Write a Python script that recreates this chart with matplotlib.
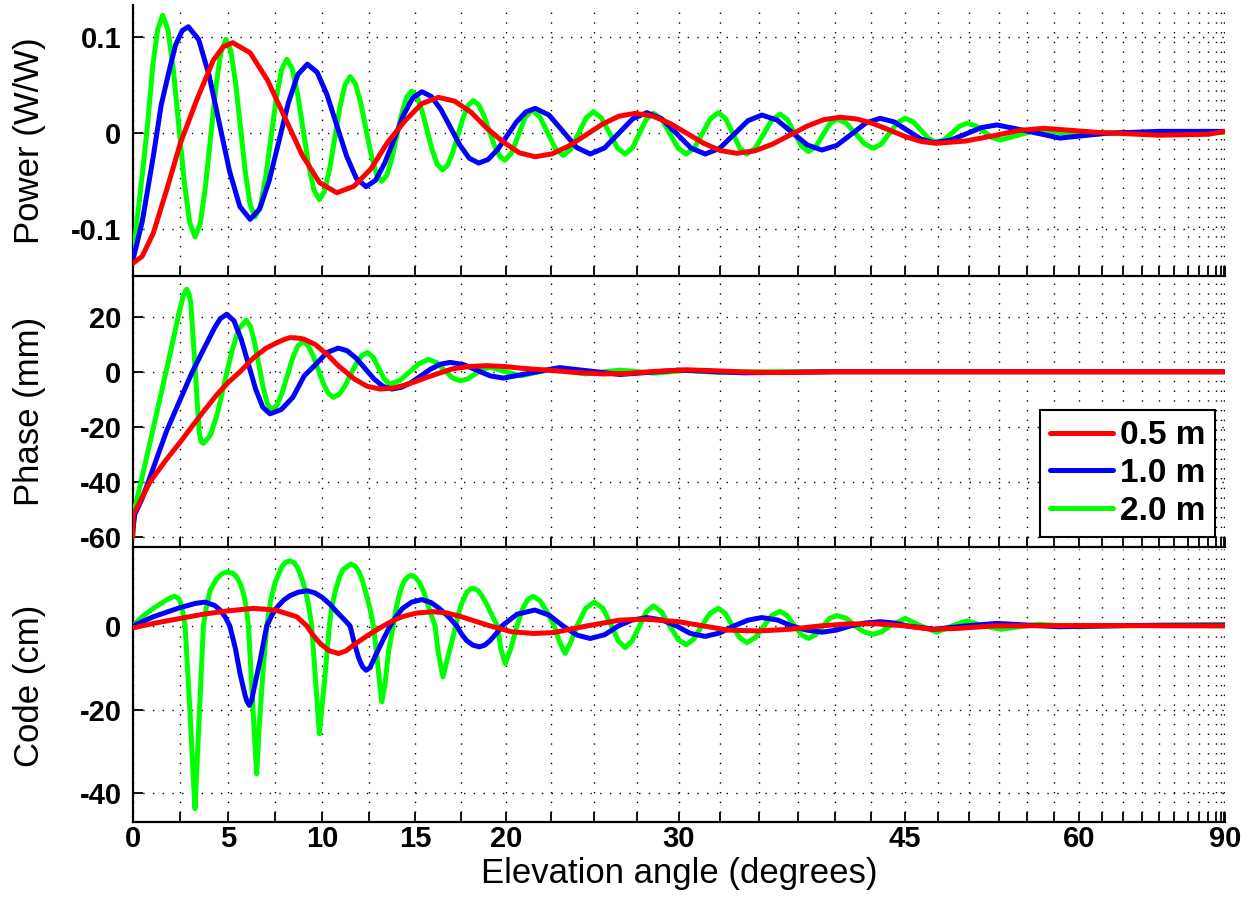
import numpy as np
import matplotlib
matplotlib.use("Agg")
import matplotlib.pyplot as plt

plt.rcParams['font.family'] = ['Liberation Sans', 'DejaVu Sans']
plt.rcParams['axes.unicode_minus'] = False

# ---------------- data (elevation in degrees) ----------------
labels = ["0.5 m", "1.0 m", "2.0 m"]
colors = ["#ff0000", "#0000ff", "#00ff00"]
xtick_labelled = [0, 5, 10, 15, 20, 30, 45, 60, 90]

power_red_x = [0, 0.5, 1.08, 1.78, 2.5, 3.36, 4.23, 4.75, 5.25, 6.17, 7.09, 8.01, 8.93, 9.85, 10.77, 11.683, 12.597,
               13.51, 14.423, 15.337, 16.25, 17.145, 18.04, 18.935, 19.83, 20.725, 21.62, 22.582, 23.543, 24.505,
               25.467, 26.428, 27.39, 28.422, 29.453, 30.485, 31.517, 32.548, 33.58, 34.712, 35.843, 36.975,
               38.107, 39.238, 40.37, 41.542, 42.713, 43.885, 45.057, 46.228, 47.4, 49.7, 52, 54.2, 56.5, 62, 70,
               80, 90]
power_red_y = [-0.1355, -0.128, -0.104, -0.059, -0.0104, 0.0347, 0.076, 0.090, 0.0944, 0.0839, 0.0553, 0.0163,
               -0.0228, -0.0514, -0.0619, -0.0552, -0.037, -0.009, 0.0127, 0.0308, 0.0375, 0.0334, 0.022, 0.005,
               -0.0089, -0.0203, -0.0244, -0.0214, -0.0131, -0.0018, 0.0095, 0.0178, 0.0208, 0.018, 0.0104, 0.0,
               -0.0104, -0.018, -0.0208, -0.0183, -0.0114, -0.002, 0.0073, 0.0142, 0.0167, 0.0149, 0.0099,
               0.0032, -0.0036, -0.0086, -0.0104, -0.008, -0.0026, 0.0029, 0.0052, 0.001, -0.002, -0.001, 0.002]

power_blue_x = [0, 0.5, 1.08, 1.5, 1.96, 2.25, 2.6, 2.92, 3.462, 4.003, 4.545, 5.087, 5.628, 6.17, 6.675, 7.18,
                7.685, 8.19, 8.695, 9.2, 9.723, 10.247, 10.77, 11.293, 11.817, 12.34, 12.842, 13.343, 13.845,
                14.347, 14.848, 15.35, 15.87, 16.39, 16.91, 17.43, 17.95, 18.47, 18.995, 19.52, 20.045, 20.57,
                21.095, 21.62, 22.405, 23.19, 23.975, 24.76, 25.59, 26.42, 27.25, 28.08, 28.96, 29.845, 30.73,
                31.61, 32.5, 33.39, 34.28, 35.17, 36.16, 37.145, 38.13, 39.12, 40.135, 41.15, 42.165, 43.18,
                44.185, 45.19, 46.2, 47.2, 48.5, 49.75, 51.0, 52.3, 55.2, 58.1, 63, 70, 80, 90]
power_blue_y = [-0.133, -0.092, -0.024, 0.03, 0.069, 0.092, 0.107, 0.111, 0.0976, 0.0609, 0.0107, -0.0395,
                -0.0762, -0.0896, -0.0788, -0.0492, -0.0088, 0.0316, 0.0612, 0.072, 0.0635, 0.0401, 0.0082,
                -0.0237, -0.0471, -0.0556, -0.049, -0.0309, -0.0062, 0.0186, 0.0367, 0.0433, 0.0383, 0.0247,
                0.0062, -0.0124, -0.026, -0.031, -0.0272, -0.0168, -0.0025, 0.0118, 0.0222, 0.026, 0.019,
                0.0022, -0.0147, -0.0216, -0.0153, 0.0, 0.0152, 0.0215, 0.0152, 0.0, -0.0153, -0.0216, -0.0157,
                -0.0013, 0.0131, 0.019, 0.0137, 0.0008, -0.0121, -0.0174, -0.0126, -0.0009, 0.0108, 0.0156,
                0.0119, 0.0029, -0.0061, -0.0098, -0.007, -0.0005, 0.006, 0.0087, 0.0018, -0.005, 0.0, 0.002,
                0.002, 0.002]

power_green_x = [0, 0.26, 0.52, 0.785, 1.05, 1.31, 1.57, 1.853, 2.137, 2.42, 2.703, 2.987, 3.27, 3.542, 3.813,
                 4.085, 4.357, 4.628, 4.90, 5.155, 5.41, 5.665, 5.92, 6.175, 6.43, 6.71, 6.99, 7.27, 7.55, 7.83,
                 8.11, 8.398, 8.687, 8.975, 9.263, 9.552, 9.84, 10.113, 10.387, 10.66, 10.933, 11.207, 11.48,
                 11.763, 12.047, 12.33, 12.613, 12.897, 13.18, 13.45, 13.72, 13.99, 14.26, 14.53, 14.80, 15.078,
                 15.357, 15.635, 15.913, 16.192, 16.47, 16.753, 17.037, 17.32, 17.603, 17.887, 18.17, 18.462,
                 18.753, 19.045, 19.337, 19.628, 19.92, 20.30, 20.675, 21.05, 21.43, 21.88, 22.325, 22.77, 23.22,
                 23.65, 24.085, 24.52, 24.95, 25.41, 25.875, 26.34, 26.8, 27.22, 27.635, 28.05, 28.47, 28.96,
                 29.455, 29.95, 30.44, 30.94, 31.435, 31.93, 32.43, 32.875, 33.32, 33.765, 34.21, 34.745, 35.28,
                 35.815, 36.35, 36.82, 37.285, 37.75, 38.22, 38.7, 39.18, 39.66, 40.14, 40.78, 41.42, 42.06, 42.7,
                 43.275, 43.85, 44.425, 45.0, 45.6, 46.2, 46.8, 47.4, 48.0, 48.6, 49.2, 49.8, 50.5, 51.2, 51.9,
                 52.6, 54.3, 56, 58, 60, 65, 70, 80, 90]
power_green_y = [-0.132, -0.085, -0.04, 0.01, 0.07, 0.108, 0.123, 0.1075, 0.0652, 0.0075, -0.0503, -0.0925, -0.108,
                 -0.0942, -0.0565, -0.005, 0.0465, 0.0842, 0.098, 0.0856, 0.0518, 0.0055, -0.0408, -0.0746, -0.087,
                 -0.076, -0.046, -0.005, 0.036, 0.066, 0.077, 0.0672, 0.0405, 0.004, -0.0325, -0.0592, -0.069,
                 -0.0604, -0.037, -0.005, 0.027, 0.0504, 0.059, 0.0517, 0.0318, 0.0045, -0.0228, -0.0427, -0.050,
                 -0.0437, -0.0265, -0.003, 0.0205, 0.0377, 0.044, 0.0385, 0.0235, 0.003, -0.0175, -0.0325, -0.038,
                 -0.0332, -0.020, -0.002, 0.016, 0.0292, 0.034, 0.0298, 0.0185, 0.003, -0.0125, -0.0238, -0.028,
                 -0.0204, -0.002, 0.0164, 0.024, 0.0171, 0.0005, -0.016, -0.023, -0.0164, -0.0003, 0.0159, 0.0225,
                 0.016, 0.0005, -0.0152, -0.0216, -0.0154, -0.0003, 0.0148, 0.021, 0.0148, -0.0003, -0.0154,
                 -0.0216, -0.0153, 0.0, 0.0152, 0.0215, 0.0152, 0.0, -0.0153, -0.0216, -0.0155, -0.0008, 0.014,
                 0.020, 0.0143, 0.0005, -0.0133, -0.019, -0.014, -0.002, 0.010, 0.015, 0.0105, 0.0, -0.011, -0.0156,
                 -0.011, 0.0, 0.011, 0.0156, 0.012, 0.003, -0.0058, -0.0095, -0.0066, 0.0005, 0.0075, 0.0104,
                 0.0079, 0.0017, -0.0045, -0.007, -0.0015, 0.004, 0.001, -0.002, 0.001, 0.0, 0.0005, 0.001]

phase_red_x = [0, 0.03, 0.4, 0.91, 1.7, 2.5, 3.1, 3.71, 4.4, 5.0, 5.64, 6.34, 7.0, 7.6, 8.0, 8.28, 8.6, 9.0, 9.6,
               10.3, 10.85, 11.7, 12.4, 13.1, 13.7, 14.3, 15.0, 15.6, 16.3, 17.0, 17.9, 18.9, 19.9, 20.8, 22.5, 24,
               25.5, 27, 28.5, 30.5, 32.5, 34.5, 36.5, 40, 90]
phase_red_y = [-60, -52, -47, -40, -32.5, -25.5, -20, -14.5, -8.5, -4, 0, 5, 8.5, 10.6, 11.8, 12.4, 12.3, 11.9,
               10, 6, 2.2, -2.6, -5.3, -6.3, -6.0, -5.1, -3.6, -2.1, -0.5, 1.0, 1.9, 2.2, 1.9, 1.3, 0.5, -0.3,
               -0.8, -0.6, 0.1, 0.7, 0.3, -0.2, -0.3, 0, 0]

phase_blue_x = [0, 0.1, 0.5, 0.82, 1.08, 1.78, 2.5, 3.1, 3.71, 4.3, 4.6, 4.94, 5.32, 5.70, 6.08, 6.46, 6.84, 7.22,
                7.825, 8.43, 9.035, 9.64, 10.245, 10.85, 11.328, 11.807, 12.285, 12.763, 13.242, 13.72, 14.248,
                14.777, 15.305, 15.833, 16.362, 16.89, 17.63, 18.365, 19.1, 19.84, 21.4, 23, 24.75, 26.5, 28.25,
                30, 32, 34, 40, 90]
phase_blue_y = [-58, -52, -46, -40, -35, -21.5, -10, -0.5, 8, 16, 19.3, 20.9, 18.5, 11.85, 2.8, -6.25, -12.9,
                -15.3, -13.7, -9.3, -1.5, 2.6, 7.0, 8.6, 7.6, 4.9, 1.15, -2.6, -5.3, -6.3, -5.65, -3.9, -1.45,
                0.98, 2.75, 3.4, 2.6, 0.55, -1.5, -2.3, -0.4, 1.5, 0.25, -1.0, -0.2, 0.6, 0.1, -0.4, 0, 0]

phase_green_x = [0, 0.1, 0.5, 1.08, 1.96, 2.45, 2.65, 2.83, 2.95, 3.05, 3.27, 3.49, 3.6, 3.71, 3.85, 4.085, 4.46,
                 4.835, 5.21, 5.585, 5.96, 6.185, 6.41, 6.635, 6.86, 7.085, 7.31, 7.585, 7.86, 8.135, 8.41, 8.685,
                 8.96, 9.232, 9.503, 9.775, 10.047, 10.318, 10.59, 10.893, 11.197, 11.5, 11.803, 12.107, 12.41,
                 12.715, 13.02, 13.325, 13.63, 14.15, 14.67, 15.19, 15.71, 16.14, 16.575, 17.01, 17.44, 17.86,
                 18.27, 18.68, 19.1, 19.95, 20.8, 21.7, 22.6, 23.55, 24.5, 25.5, 26.5, 27.5, 28.5, 29.5, 30.5,
                 31.5, 32.5, 34, 40, 90]
phase_green_y = [-60, -50, -38, -20.5, 6.5, 22, 27.5, 30, 28.5, 25, 2, -22, -25.5, -26, -25, -23.0, -14.8,
                 -3.65, 7.5, 15.7, 18.7, 16.5, 10.55, 2.4, -5.75, -11.7, -13.9, -12.2, -7.7, -1.45, 4.8, 9.3,
                 11.0, 9.6, 5.9, 0.85, -4.2, -7.9, -9.3, -8.2, -5.2, -1.15, 2.9, 5.9, 7.0, 5.3, 1.25, -2.8, -4.5,
                 -3.2, -0.15, 2.9, 4.5, 3.4, 0.6, -2.2, -3.3, -2.6, -0.85, 0.9, 1.6, 0.05, -1.5, -0.25, 1.0, 0.1,
                 -0.8, -0.1, 0.6, 0.05, -0.5, 0, 0.5, 0.1, -0.3, 0, 0, 0]

code_red_x = [0, 1.08, 2.5, 3.7, 5, 6.34, 7.5, 8.64, 9.17, 9.5, 9.88, 10.35, 10.85, 11.25, 11.66, 12.05, 12.45,
              13.26, 13.8, 14.35, 15.1, 15.97, 16.7, 17.44, 18.3, 19.1, 20.3, 21.5, 22.65, 24.57, 26.5, 28, 30,
              31.5, 33, 35, 37, 39, 41, 43, 45, 47, 49, 52, 60, 90]
code_red_y = [-0.5, 0.6, 1.8, 2.8, 3.6, 4.2, 3.8, 2.2, 0, -2.2, -4.2, -5.9, -6.6, -6.0, -4.6, -3.4, -2.2, 0, 1.3,
              2.3, 3.1, 3.4, 3.1, 2.3, 1.1, 0, -1.4, -1.8, -1.6, 0, 1.4, 1.6, 1.0, 0, -1.0, -1.2, -0.8, 0, 0.5,
              0.5, 0, -0.8, -0.6, 0, 0.1, 0]

code_blue_x = [0, 1.08, 2.5, 3.3, 3.8, 4.3, 4.59, 4.85, 5.1, 5.4, 5.64, 5.9, 6.0, 6.13, 6.25, 6.4, 6.7, 7.05, 7.3,
               7.6, 7.95, 8.3, 8.75, 9.2, 9.6, 10.0, 10.4, 10.8, 11.15, 11.48, 11.7, 11.95, 12.15, 12.34, 12.55,
               12.8, 13.2, 13.63, 13.95, 14.3, 14.8, 15.35, 15.85, 16.3, 16.8, 17.26, 17.5, 17.8, 18.15, 18.5,
               18.8, 19.1, 19.45, 19.76, 20.6, 21.6, 22.4, 23.2, 24.0, 24.76, 25.6, 26.4, 27.2, 28.08, 29, 29.85,
               30.7, 31.61, 32.5, 33.4, 34.3, 35.17, 36.2, 37.1, 38.1, 39.12, 40.1, 41.1, 42.1, 43.18, 44.2,
               45.2, 47.2, 49.7, 52.3, 58, 65, 90]
code_blue_y = [0, 2.2, 4.4, 5.4, 5.7, 4.9, 3.8, 2.2, 0, -5.5, -11.4, -16.5, -18, -19, -17.8, -14.5, -8.2, 0, 2.4,
               4.5, 6.2, 7.3, 8.1, 8.4, 7.9, 6.8, 5.2, 3.2, 1.6, 0, -4, -7.8, -9.8, -10.6, -10.0, -7.5, -3.8, 0,
               2.2, 4.2, 5.7, 6.3, 5.6, 4.2, 2.2, 0, -1.8, -3.5, -4.6, -5, -4.6, -3.5, -1.8, 0, 2.8, 3.8, 2.6, 0,
               -2.2, -3, -2.1, 0, 1.4, 2, 1.4, 0, -1.8, -2.5, -1.7, 0, 1.4, 2.0, 1.4, 0, -1, -1.5, -1, 0, 0.7,
               1.0, 0.7, 0, -0.8, 0, 0.6, -0.2, 0.1, 0.2]

code_green_x = [0, 0.5, 1.08, 1.7, 2.0, 2.22, 2.4, 2.5, 2.62, 2.75, 3.0, 3.15, 3.27, 3.4, 3.55, 3.71, 3.85, 4.06,
                4.41, 4.7, 4.97, 5.25, 5.45, 5.64, 5.82, 5.96, 6.08, 6.25, 6.4, 6.52, 6.65, 6.85, 7.05, 7.25, 7.5,
                7.85, 8.05, 8.25, 8.5, 8.7, 8.95, 9.17, 9.3, 9.43, 9.6, 9.75, 9.84, 9.95, 10.15, 10.37, 10.5, 10.7,
                10.9, 11.1, 11.52, 11.75, 11.95, 12.15, 12.35, 12.55, 12.73, 12.9, 13.05, 13.18, 13.35, 13.55,
                13.8, 13.95, 14.1, 14.25, 14.4, 14.6, 14.8, 15.0, 15.2, 15.45, 15.65, 15.85, 16.07, 16.25, 16.5,
                16.8, 17.2, 17.35, 17.5, 17.8, 18.0, 18.17, 18.4, 18.6, 18.85, 19.1, 19.3, 19.5, 19.7, 19.94,
                20.25, 20.6, 20.9, 21.2, 21.52, 21.9, 22.3, 22.7, 23.0, 23.32, 23.65, 24.0, 24.5, 25.0, 25.5,
                26.0, 26.4, 26.8, 27.2, 27.65, 28.05, 28.47, 28.95, 29.45, 29.95, 30.44, 30.9, 31.4, 31.9, 32.43,
                32.85, 33.3, 33.75, 34.21, 34.75, 35.3, 35.8, 36.35, 36.8, 37.3, 37.75, 38.22, 38.7, 39.2, 39.65,
                40.14, 40.8, 41.4, 42.0, 42.7, 43.3, 43.9, 45.0, 46.2, 47.4, 48.6, 49.8, 51.2, 52.6, 56, 60, 70,
                90]
code_green_y = [0, 2.2, 4.2, 6.0, 6.8, 7.1, 6.6, 5.7, 3.5, 0, -20, -33.6, -43.7, -30.7, -15.3, 0, 4, 8.5, 11.3,
                12.5, 12.9, 12.6, 11.8, 10.2, 7.8, 4.6, 0, -14, -26, -35.4, -24, -11, 0, 6, 10.5, 14.2, 15.2, 15.6,
                15.1, 13.8, 10.8, 7, 4, 0, -10.6, -20, -25.8, -20.6, -11.5, 0, 4.5, 8.5, 11.5, 13.5, 14.8, 14.3,
                13, 10.7, 7.5, 4, 0, -6.5, -13, -18.2, -14, -6, 0, 4, 7, 9.2, 10.8, 11.8, 12.1, 11.6, 10.5, 8.2,
                5.5, 2.8, 0, -6.5, -12.2, -7, 0, 2.8, 5, 8, 8.8, 9, 8.6, 7.5, 5.7, 3.5, 1.7, 0, -5.5, -9, -5.5, 0,
                4, 6.3, 7.1, 6, 3.3, 0, -3.8, -6.6, -3.8, 0, 4.2, 5.7, 4.2, 0, -3.6, -5.2, -3.6, 0, 3.4, 4.8, 3.4,
                0, -3.2, -4.5, -3.2, 0, 3.0, 4.2, 3.0, 0, -2.8, -4.0, -2.8, 0, 2.5, 3.5, 2.5, 0, -2.1, -3.0, -2.1,
                0, 1.8, 2.5, 1.8, 0, -1.4, -2.0, -1.4, 0, 1.8, 0, -1.5, 0, 1.2, 0, -0.8, 0.4, -0.2, 0.2, 0.3]

panels = [
    ("Power (W/W)", [(power_red_x, power_red_y), (power_blue_x, power_blue_y), (power_green_x, power_green_y)],
     [-0.1, 0, 0.1], ["-0.1", "0", "0.1"], (-0.1486, 0.1336)),
    ("Phase (mm)", [(phase_red_x, phase_red_y), (phase_blue_x, phase_blue_y), (phase_green_x, phase_green_y)],
     [-60, -40, -20, 0, 20], ["-60", "-40", "-20", "0", "20"], (-63.7, 34.8)),
    ("Code (cm)", [(code_red_x, code_red_y), (code_blue_x, code_blue_y), (code_green_x, code_green_y)],
     [-40, -20, 0], ["-40", "-20", "0"], (-46.9, 18.4)),
]


def fwd(x):
    return np.sin(np.deg2rad(x))


def inv(s):
    return np.rad2deg(np.arcsin(np.clip(s, -1, 1)))


W, H = 1257, 907
fig = plt.figure(figsize=(W / 100, H / 100), dpi=100)
left = 132.7 / W
width = (1225 - 132.7) / W
rects = [(5, 276), (276, 547), (549, 822)]

xt = np.arange(0, 90.01, 2.5)
axes = []
for i, ((ylab, curves, yt, ytl, ylim), (top, bot)) in enumerate(zip(panels, rects)):
    ax = fig.add_axes([left, 1 - bot / H, width, (bot - top) / H])
    ax.set_xscale('function', functions=(fwd, inv))
    handles = []
    for (cx, cy), col, lab in list(zip(curves, colors, labels))[::-1]:
        h, = ax.plot(cx, cy, color=col, lw=3.6, label=lab, solid_capstyle='round',
                     solid_joinstyle='round', zorder=3)
        handles.append(h)
    handles = handles[::-1]
    ax.set_xlim(0, 90)
    ax.set_ylim(*ylim)
    ax.set_yticks(yt)
    ax.set_yticklabels(ytl, fontsize=21, fontweight='bold')
    ax.set_xticks(xt)
    if i == 2:
        ax.set_xticklabels([("%g" % v) if v in xtick_labelled else "" for v in xt],
                           fontsize=21, fontweight='bold')
        ax.set_xlabel("Elevation angle (degrees)", fontsize=25)
        ax.xaxis.set_label_coords(0.5, -0.128)
    else:
        ax.set_xticklabels([])
    ax.set_ylabel(ylab, fontsize=25)
    ax.yaxis.set_label_coords(-0.079, 0.5)
    ax.tick_params(axis='y', direction='in', length=7, width=1.3, pad=8, colors='k')
    ax.tick_params(axis='x', direction='in', length=7, width=1.3, pad=2, colors='k')
    ax.grid(True, color='k', linestyle=(0, (1, 6)), linewidth=1.0)
    ax.set_axisbelow(True)
    for s in ['top', 'right']:
        ax.spines[s].set_visible(False)
    for s in ['left', 'bottom']:
        ax.spines[s].set_linewidth(1.6)
    ax.patch.set_alpha(0)
    axes.append(ax)
    if i == 1:
        leg = ax.legend(handles=handles, loc='lower right', bbox_to_anchor=(0.991, 0.038),
                        borderaxespad=0, fancybox=False, framealpha=1, edgecolor='k',
                        prop={'size': 24, 'weight': 'bold'}, handlelength=1.9,
                        handletextpad=0.2, labelspacing=0.2, borderpad=0.3)
        leg.get_frame().set_linewidth(1.5)
        leg.set_zorder(10)

fig.savefig("out.png", dpi=100)
